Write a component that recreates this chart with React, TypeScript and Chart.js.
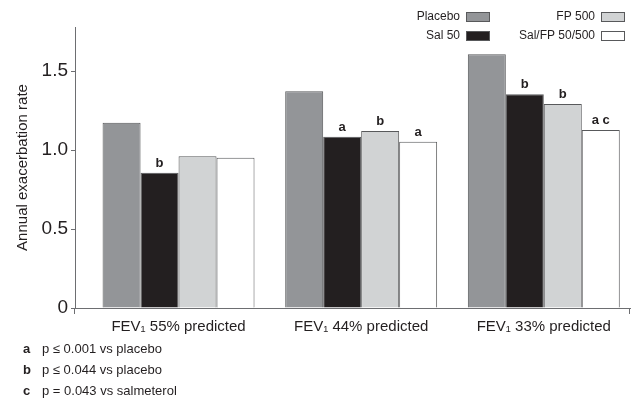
import { useEffect, useRef } from 'react';
import { Chart, registerables } from 'chart.js';

Chart.register(...registerables);

const categories = ['FEV₁ 55% predicted', 'FEV₁ 44% predicted', 'FEV₁ 33% predicted'];
const placebo = [1.173, 1.373, 1.608];
const sal50 = [0.856, 1.084, 1.354];
const fp500 = [0.962, 1.122, 1.293];
const salFp = [0.951, 1.053, 1.127];
const placeboSig = ['', '', ''];
const sal50Sig = ['b', 'a', 'b'];
const fp500Sig = ['', 'b', 'b'];
const salFpSig = ['', 'a', 'a c'];
const yTickValues = [0, 0.5, 1.0, 1.5];
const seriesNames = ['Placebo', 'Sal 50', 'FP 500', 'Sal/FP 50/500'];
const footnotes = [
  ['a', 'p ≤ 0.001 vs placebo'],
  ['b', 'p ≤ 0.044 vs placebo'],
  ['c', 'p = 0.043 vs salmeterol'],
];

const FONT = '"Liberation Sans", Arial, Helvetica, sans-serif';
const TEXT = '#231f20';
const AXIS = '#6d6e71';
const EDGE = '#58595b';

const sigPlugin = {
  id: 'sigLetters',
  afterDatasetsDraw(chart: any) {
    const ctx = chart.ctx;
    const sigs = [placeboSig, sal50Sig, fp500Sig, salFpSig];
    ctx.save();
    ctx.font = `bold 13px ${FONT}`;
    ctx.fillStyle = TEXT;
    ctx.textAlign = 'center';
    ctx.textBaseline = 'bottom';
    sigs.forEach((arr, di) => {
      const meta = chart.getDatasetMeta(di);
      arr.forEach((s, j) => {
        if (!s) return;
        const el = meta.data[j];
        ctx.fillText(s, el.x, el.y - 3);
      });
    });
    ctx.restore();
  },
};

const axisEndsPlugin = {
  id: 'axisEnds',
  afterDraw(chart: any) {
    const { ctx, chartArea } = chart;
    ctx.save();
    ctx.strokeStyle = AXIS;
    ctx.lineWidth = 1;
    const b = Math.round(chartArea.bottom);
    [chartArea.left, chartArea.right].forEach((x: number) => {
      const px = Math.round(x) - 0.5;
      ctx.beginPath();
      ctx.moveTo(px, b);
      ctx.lineTo(px, b + 6);
      ctx.stroke();
    });
    ctx.restore();
  },
};

const legendPlugin = {
  id: 'customLegend',
  afterDraw(chart: any) {
    const ctx = chart.ctx;
    const slots = [
      { boxX: 466, y: 17 },
      { boxX: 466, y: 36 },
      { boxX: 601, y: 17 },
      { boxX: 601, y: 36 },
    ];
    ctx.save();
    ctx.font = `12px ${FONT}`;
    ctx.textAlign = 'right';
    ctx.textBaseline = 'middle';
    chart.data.datasets.forEach((ds: any, i: number) => {
      const s = slots[i];
      ctx.fillStyle = TEXT;
      ctx.fillText(ds.label, s.boxX - 6, s.y);
      ctx.fillStyle = ds.backgroundColor;
      ctx.fillRect(s.boxX, s.y - 5, 24, 10);
      ctx.strokeStyle = EDGE;
      ctx.lineWidth = 1;
      ctx.strokeRect(s.boxX + 0.5, s.y - 5 + 0.5, 23, 9);
    });
    ctx.restore();
  },
};

export default function App() {
  const ref = useRef<HTMLCanvasElement | null>(null);

  useEffect(() => {
    if (!ref.current) return;
    const mk = (vals: number[]) => vals.map((v, i) => ({ x: i, y: v }));
    const colors = ['#939598', '#231f20', '#d1d3d4', '#ffffff'];
    const series = [placebo, sal50, fp500, salFp];
    const chart = new Chart(ref.current, {
      type: 'bar',
      data: {
        datasets: series.map((s, i) => ({
          label: seriesNames[i],
          data: mk(s),
          backgroundColor: colors[i],
          borderColor: EDGE,
          borderWidth: 1,
          categoryPercentage: 0.832,
          barPercentage: 1,
        })),
      },
      options: {
        animation: false,
        responsive: false,
        maintainAspectRatio: false,
        layout: { padding: { top: 27, right: 4, left: 0, bottom: 0 } },
        plugins: {
          legend: { display: false },
          tooltip: { enabled: false },
        },
        scales: {
          x: {
            type: 'linear',
            min: -0.567,
            max: 2.472,
            offset: false,
            grid: { display: false },
            border: { display: true, color: AXIS, width: 1 },
            afterBuildTicks: (scale: any) => {
              scale.ticks = categories.map((_, i) => ({ value: i }));
            },
            afterFit: (scale: any) => {
              scale.height = 95;
            },
            ticks: {
              padding: 2,
              color: TEXT,
              font: { family: FONT, size: 15 },
              maxRotation: 0,
              autoSkip: false,
              callback: (v: any) => categories[Number(v)] ?? '',
            },
          },
          y: {
            min: 0,
            max: 1.78,
            grid: {
              display: true,
              drawOnChartArea: false,
              drawTicks: true,
              tickLength: 4,
              color: AXIS,
            },
            border: { display: true, color: AXIS, width: 1 },
            afterBuildTicks: (scale: any) => {
              scale.ticks = yTickValues.map((v) => ({ value: v }));
            },
            afterFit: (scale: any) => {
              scale.width = 75;
            },
            ticks: {
              padding: 3,
              color: TEXT,
              font: { family: FONT, size: 19 },
              callback: (v: any) => (Number(v) === 0 ? '0' : Number(v).toFixed(1)),
            },
            title: {
              display: true,
              text: 'Annual exacerbation rate',
              color: TEXT,
              font: { family: FONT, size: 15 },
              padding: { top: 14, bottom: 0 },
            },
          },
        },
      },
      plugins: [sigPlugin, axisEndsPlugin, legendPlugin],
    } as any);
    return () => chart.destroy();
  }, []);

  return (
    <div style={{ position: 'fixed', left: 0, top: 0, width: 634, height: 403, background: '#fff' }}>
      <canvas ref={ref} width={634} height={403} style={{ display: 'block' }} />
      {footnotes.map(([letter, text], i) => (
        <div
          key={letter}
          style={{
            position: 'absolute',
            left: 23,
            top: 341 + i * 21,
            height: 16,
            lineHeight: '16px',
            fontFamily: FONT,
            fontSize: 13,
            color: TEXT,
            whiteSpace: 'nowrap',
          }}
        >
          <span style={{ display: 'inline-block', width: 19, fontWeight: 'bold' }}>{letter}</span>
          <span>{text}</span>
        </div>
      ))}
    </div>
  );
}
